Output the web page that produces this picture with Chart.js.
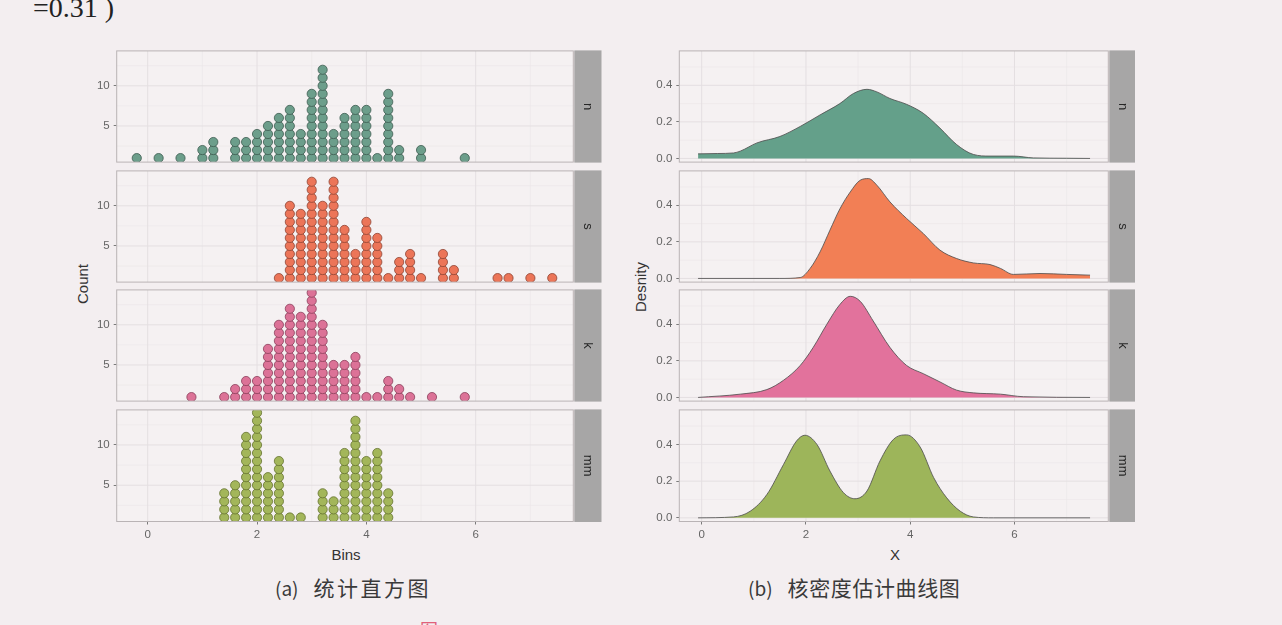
<!DOCTYPE html>
<html><head><meta charset="utf-8">
<script src="https://cdn.jsdelivr.net/npm/chart.js@4/dist/chart.umd.min.js"></script>
<style>
html,body{margin:0;padding:0;}
body{width:1282px;height:625px;background:#f3eef0;position:relative;overflow:hidden;font-family:"Liberation Sans",Arial,sans-serif;}
canvas{position:absolute;}
.t{position:absolute;white-space:nowrap;color:#333;line-height:1;}
.cap{position:absolute;white-space:nowrap;line-height:1;font-size:21px;font-family:'Noto Sans CJK SC',sans-serif;color:#3a3a3a;letter-spacing:2.5px;}
.cap span{letter-spacing:0;margin-right:15px;font-size:19px;}
</style></head><body>
<div class="t" style="left:33px;top:-6px;font-family:'Liberation Serif',serif;font-size:28px;color:#222;">=0.31 )</div>
<div class="t" style="left:82px;top:284px;font-size:15px;transform:translate(-50%,-50%) rotate(-90deg);">Count</div>
<div class="t" style="left:640px;top:287px;font-size:15px;transform:translate(-50%,-50%) rotate(-90deg);">Desnity</div>
<div class="t" style="left:346px;top:554px;font-size:15px;transform:translate(-50%,-50%);">Bins</div>
<div class="t" style="left:895px;top:554px;font-size:15px;transform:translate(-50%,-50%);">X</div>
<div class="cap" style="left:275px;top:577px;"><span>(a)</span>统计直方图</div>
<div class="cap" style="left:748px;top:577px;letter-spacing:0.6px;"><span>(b)</span>核密度估计曲线图</div>
<div class="t" style="left:420px;top:620px;font-size:18px;font-family:'Noto Sans CJK SC',sans-serif;color:#e0607a;">图</div>
<script>
// ---------- data ----------
const facets = ['n', 's', 'k', 'mm'];
const xTickLabels = ['0', '2', '4', '6'];
const countTicks = [5, 10];
const densityTicks = [0.0, 0.2, 0.4];

// dot histogram: bin centres and dot counts per facet
const binsN  = [-0.2,0.2,0.6,1.0,1.2,1.6,1.8,2.0,2.2,2.4,2.6,2.8,3.0,3.2,3.4,3.6,3.8,4.0,4.2,4.4,4.6,5.0,5.8];
const countsN = [1,1,1,2,3,3,3,4,5,6,7,4,9,12,4,6,7,7,1,9,2,2,1];
const binsS  = [2.4,2.6,2.8,3.0,3.2,3.4,3.6,3.8,4.0,4.2,4.4,4.6,4.8,5.0,5.4,5.6,6.4,6.6,7.0,7.4];
const countsS = [1,10,9,13,10,13,7,4,8,6,1,3,4,1,4,2,1,1,1,1];
const binsK  = [0.8,1.4,1.6,1.8,2.0,2.2,2.4,2.6,2.8,3.0,3.2,3.4,3.6,3.8,4.0,4.2,4.4,4.6,4.8,5.2,5.8];
const countsK = [1,1,2,3,3,7,10,12,11,14,10,5,5,6,1,1,3,2,1,1,1];
const binsMM = [1.4,1.6,1.8,2.0,2.2,2.4,2.6,2.8,3.2,3.4,3.6,3.8,4.0,4.2,4.4];
const countsMM = [4,5,11,14,6,8,1,1,4,3,9,13,8,9,4];

// kernel density curves
const densXN = [-0.07,0.3,0.61,0.74,1.06,1.5,1.89,2.27,2.65,2.91,3.17,3.36,3.61,3.93,4.25,4.57,4.89,5.21,5.53,5.98,6.36,7.0,7.45];
const densYN = [0.025,0.027,0.03,0.04,0.085,0.12,0.175,0.238,0.30,0.355,0.378,0.364,0.328,0.296,0.247,0.166,0.076,0.022,0.013,0.013,0.003,0.001,0.0];
const densXS = [-0.07,1.5,1.89,2.08,2.27,2.46,2.65,2.85,3.04,3.20,3.36,3.61,3.93,4.25,4.57,4.89,5.21,5.53,5.73,5.98,6.49,7.0,7.45];
const densYS = [0.0,0.0,0.005,0.055,0.145,0.264,0.38,0.473,0.537,0.546,0.51,0.419,0.328,0.246,0.155,0.109,0.085,0.076,0.055,0.022,0.027,0.022,0.018];
const densXK = [-0.07,0.74,1.25,1.57,1.89,2.14,2.40,2.65,2.85,3.04,3.29,3.61,3.93,4.25,4.57,4.89,5.21,5.73,6.17,7.45];
const densYK = [0.0,0.018,0.043,0.094,0.175,0.274,0.40,0.508,0.553,0.526,0.418,0.274,0.175,0.13,0.085,0.04,0.025,0.018,0.004,0.0];
const densXMM = [-0.07,0.61,0.93,1.25,1.57,1.82,1.98,2.21,2.46,2.72,2.94,3.17,3.42,3.68,3.93,4.19,4.45,4.70,4.96,5.21,5.6,7.45];
const densYMM = [0.0,0.005,0.036,0.127,0.291,0.419,0.45,0.40,0.255,0.137,0.104,0.146,0.31,0.428,0.452,0.386,0.219,0.109,0.036,0.005,0.0,0.0];

// ---------- styling ----------
const dotFill   = ['#6c9e8b', '#ec7558', '#dc7297', '#a3b65a'];
const dotLine   = ['#3e5c50', '#8e4433', '#8a3f5a', '#65722f'];
const areaFill  = ['#64a08a', '#f27f55', '#e2729c', '#9db55a'];
const rowTops = [50, 170, 289, 409];
const PANEL_H = 112.5;
const PAD = 10;

const histBins = [binsN, binsS, binsK, binsMM];
const histCounts = [countsN, countsS, countsK, countsMM];
const densX = [densXN, densXS, densXK, densXMM];
const densY = [densYN, densYS, densYK, densYMM];

const deco = {
  id: 'deco',
  beforeDatasetsDraw(chart, args, o) {
    const {ctx, chartArea: a, scales: {x, y}} = chart;
    ctx.save();
    ctx.fillStyle = '#f5f1f2';
    ctx.fillRect(a.left, a.top, a.right - a.left, a.bottom - a.top);
    const vline = (p, c, w) => { ctx.strokeStyle = c; ctx.lineWidth = w; ctx.beginPath(); ctx.moveTo(p, a.top); ctx.lineTo(p, a.bottom); ctx.stroke(); };
    const hline = (p, c, w) => { ctx.strokeStyle = c; ctx.lineWidth = w; ctx.beginPath(); ctx.moveTo(a.left, p); ctx.lineTo(a.right, p); ctx.stroke(); };
    o.xMinor.forEach(v => vline(x.getPixelForValue(v), '#ebe6e8', 0.6));
    o.yMinor.forEach(v => hline(y.getPixelForValue(v), '#ebe6e8', 0.6));
    o.xMajor.forEach(v => vline(x.getPixelForValue(v), '#e4dfe1', 1));
    o.yMajor.forEach(v => hline(y.getPixelForValue(v), '#e4dfe1', 1));
    ctx.restore();
  },
  afterDraw(chart, args, o) {
    const {ctx, chartArea: a} = chart;
    ctx.save();
    ctx.strokeStyle = '#b9b3b5'; ctx.lineWidth = 1;
    ctx.strokeRect(a.left, a.top, a.right - a.left, a.bottom - a.top);
    const sx = a.right + 1, sw = o.stripW;
    ctx.fillStyle = '#a7a6a6';
    ctx.fillRect(sx, a.top - 0.5, sw, a.bottom - a.top + 1);
    ctx.translate(sx + sw / 2, (a.top + a.bottom) / 2);
    ctx.rotate(Math.PI / 2);
    ctx.fillStyle = '#262626';
    ctx.font = '13px "Liberation Sans", Arial, sans-serif';
    ctx.textAlign = 'center'; ctx.textBaseline = 'middle';
    ctx.fillText(o.label, 0, 0);
    ctx.restore();
  }
};

function makeCanvas(left, top, w, h) {
  const c = document.createElement('canvas');
  c.width = w; c.height = h;
  c.style.left = left + 'px'; c.style.top = top + 'px';
  c.style.width = w + 'px'; c.style.height = h + 'px';
  document.body.appendChild(c);
  return c;
}

const tickFont = {family: '"Liberation Sans", Arial, sans-serif', size: 11.5};
const tickColor = '#656565';

function baseOptions(i, xr, yr, yAxisW, padRight, stripW, yTicks, yFmt, yMinor, last) {
  return {
    responsive: false, animation: false, devicePixelRatio: 1,
    layout: {padding: {top: PAD, bottom: last ? 0.5 : 10.5, left: 0, right: padRight}},
    plugins: {legend: {display: false}, tooltip: {enabled: false},
      deco: {label: facets[i], stripW: stripW, xMajor: [0, 2, 4, 6], xMinor: [1, 3, 5, 7],
             yMajor: yTicks, yMinor: yMinor}},
    scales: {
      x: {type: 'linear', min: xr[0], max: xr[1], display: last,
        afterBuildTicks: s => { s.ticks = xTickLabels.map(v => ({value: Number(v)})); },
        afterFit: s => { s.height = last ? 24 : 0; },
        grid: {drawOnChartArea: false, drawTicks: true, tickLength: 3, color: '#7a7a7a'},
        border: {display: false},
        ticks: {font: tickFont, color: tickColor, padding: 3, maxRotation: 0,
          callback: (v, idx) => xTickLabels[idx]}},
      y: {type: 'linear', min: yr[0], max: yr[1],
        afterBuildTicks: s => { s.ticks = yTicks.map(v => ({value: v})); },
        afterFit: s => { s.width = yAxisW; },
        grid: {drawOnChartArea: false, drawTicks: true, tickLength: 3, color: '#7a7a7a'},
        border: {display: false},
        ticks: {font: tickFont, color: tickColor, padding: 4, callback: yFmt}}
    }
  };
}

// ---------- left: dot histograms ----------
for (let i = 0; i < 4; i++) {
  const last = i === 3;
  const h = last ? 147 : 133;
  const c = makeCanvas(80, rowTops[i] - PAD, 530, h);
  const pts = [];
  histBins[i].forEach((b, j) => { for (let k = 1; k <= histCounts[i][j]; k++) pts.push({x: b, y: k}); });
  new Chart(c, {
    type: 'scatter',
    data: {datasets: [{data: pts, pointRadius: 4.6, pointBackgroundColor: dotFill[i],
      pointBorderColor: dotLine[i], pointBorderWidth: 0.8}]},
    options: baseOptions(i, [-0.567, 7.785], [0.5, 14.35], 36.7, 36.7, 27.2,
      countTicks, v => String(v), [2.5, 7.5, 12.5], last),
    plugins: [deco]
  });
}

// ---------- right: density curves ----------
for (let i = 0; i < 4; i++) {
  const last = i === 3;
  const h = last ? 147 : 133;
  const c = makeCanvas(640, rowTops[i] - PAD, 500, h);
  const pts = densX[i].map((x, j) => ({x: x, y: densY[i][j]}));
  new Chart(c, {
    type: 'line',
    data: {datasets: [{data: pts, fill: 'origin', backgroundColor: areaFill[i],
      borderColor: '#4a4a4a', borderWidth: 0.8, pointRadius: 0,
      cubicInterpolationMode: 'monotone'}]},
    options: baseOptions(i, [-0.43, 7.80], [-0.02, -0.02 + PANEL_H / 185], 39.3, 31.7, 25.7,
      densityTicks, v => v.toFixed(1), [0.1, 0.3, 0.5], last),
    plugins: [deco]
  });
}
</script>
</body></html>
